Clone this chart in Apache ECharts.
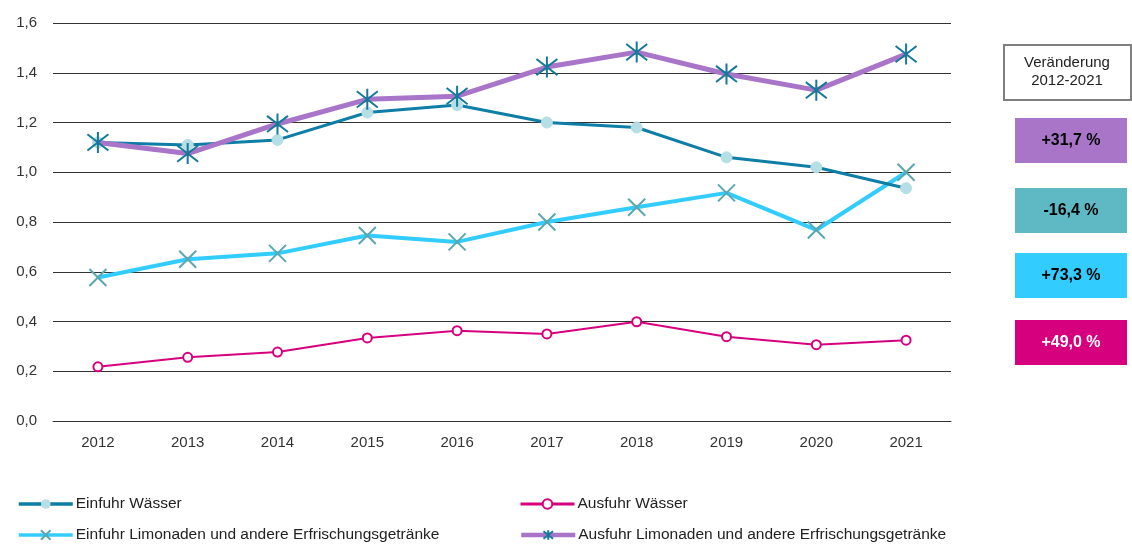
<!DOCTYPE html>
<html>
<head>
<meta charset="utf-8">
<script src="https://cdn.jsdelivr.net/npm/echarts@6.0.0/dist/echarts.min.js"></script>
<style>
  html, body { margin: 0; padding: 0; background: #fff; }
  #chart { width: 1132px; height: 544px; }
</style>
</head>
<body>
<div id="chart"></div>
<script>
var years = ['2012', '2013', '2014', '2015', '2016', '2017', '2018', '2019', '2020', '2021'];
var einfuhrWasser = [1.12, 1.11, 1.13, 1.24, 1.27, 1.20, 1.18, 1.06, 1.02, 0.936];
var ausfuhrWasser = [0.218, 0.256, 0.277, 0.334, 0.363, 0.35, 0.399, 0.339, 0.307, 0.325];
var einfuhrLimo = [0.577, 0.65, 0.674, 0.746, 0.72, 0.80, 0.859, 0.917, 0.768, 1.0];
var ausfuhrLimo = [1.12, 1.075, 1.194, 1.293, 1.306, 1.423, 1.483, 1.395, 1.33, 1.475];
var seriesNames = ['Einfuhr Wässer', 'Ausfuhr Wässer',
    'Einfuhr Limonaden und andere Erfrischungsgetränke',
    'Ausfuhr Limonaden und andere Erfrischungsgetränke'];
var changeLabels = ['+31,7 %', '-16,4 %', '+73,3 %', '+49,0 %'];

var font = '"Liberation Sans", Arial, sans-serif';
var asterisk = 'path://M0,0L20,20M20,0L0,20M10,-3L10,23';
var cross = 'path://M0,0L20,20M20,0L0,20';

var chart = echarts.init(document.getElementById('chart'));

var boxes = [
    { top: 118, fill: '#a875c9', text: '#000' },
    { top: 188, fill: '#5fb9c5', text: '#000' },
    { top: 253, fill: '#33ccff', text: '#000' },
    { top: 320, fill: '#d6007f', text: '#fff' }
];
var graphics = [{
    type: 'rect',
    shape: { x: 1004, y: 45, width: 127, height: 55 },
    style: { fill: '#fff', stroke: '#7f7f7f', lineWidth: 2 }
}, {
    type: 'text',
    x: 1067, y: 72,
    style: { text: 'Veränderung\n2012-2021', align: 'center', verticalAlign: 'middle',
        font: '15px ' + font, fill: '#222', lineHeight: 18 }
}];
boxes.forEach(function (b, i) {
    graphics.push({
        type: 'rect',
        shape: { x: 1015, y: b.top, width: 112, height: 45 },
        style: { fill: b.fill }
    });
    graphics.push({
        type: 'text',
        x: 1071, y: b.top + 23,
        style: { text: changeLabels[i], align: 'center', verticalAlign: 'middle',
            font: 'bold 16px ' + font, fill: b.text }
    });
});

// one legend per item, laid out in two columns
var legendPos = [[12, 491], [514, 491], [12, 522], [514, 522]];
var legendLine = [3.5, 3, 3.5, 4.5];
var legends = seriesNames.map(function (n, i) {
    return {
        left: legendPos[i][0], top: legendPos[i][1],
        itemWidth: 54, itemHeight: 12, itemGap: 0,
        lineStyle: { width: legendLine[i] },
        textStyle: { fontSize: 15.5, color: '#222', fontFamily: font, padding: [0, 0, 0, -2] },
        data: [n]
    };
});

chart.setOption({
    backgroundColor: '#fff',
    animation: false,
    textStyle: { fontFamily: font },
    grid: { left: 53, right: 181, top: 23, bottom: 123 },
    legend: legends,
    xAxis: {
        type: 'category',
        data: years,
        boundaryGap: true,
        axisLine: { lineStyle: { color: '#333', width: 1 } },
        axisTick: { show: false },
        axisLabel: { color: '#333', fontSize: 15, margin: 14, fontFamily: font }
    },
    yAxis: {
        type: 'value',
        min: 0, max: 1.6, interval: 0.2,
        axisLine: { show: false },
        axisTick: { show: false },
        axisLabel: {
            color: '#333', fontSize: 15, margin: 16, fontFamily: font,
            formatter: function (v) { return v.toFixed(1).replace('.', ','); }
        },
        splitLine: { lineStyle: { color: '#333', width: 1 } }
    },
    series: [{
        name: seriesNames[0],
        type: 'line',
        data: einfuhrWasser,
        symbol: 'circle',
        symbolSize: 11,
        lineStyle: { color: '#0e7ea6', width: 3 },
        itemStyle: { color: '#b5dfe5', borderColor: '#b5dfe5' },
        z: 2
    }, {
        name: seriesNames[1],
        type: 'line',
        data: ausfuhrWasser,
        symbol: 'emptyCircle',
        symbolSize: 9,
        lineStyle: { color: '#d6007f', width: 2 },
        itemStyle: { color: '#d6007f', borderColor: '#d6007f', borderWidth: 2 },
        z: 2
    }, {
        name: seriesNames[2],
        type: 'line',
        data: einfuhrLimo,
        symbol: cross,
        symbolSize: 17,
        lineStyle: { color: '#33ccff', width: 4 },
        itemStyle: { color: 'none', borderColor: '#5aa7ae', borderWidth: 2 },
        z: 1
    }, {
        name: seriesNames[3],
        type: 'line',
        data: ausfuhrLimo,
        symbol: asterisk,
        symbolSize: 21,
        lineStyle: { color: '#a875c9', width: 5 },
        itemStyle: { color: 'none', borderColor: '#16799a', borderWidth: 2 },
        z: 3
    }],
    graphic: graphics
});
</script>
</body>
</html>
